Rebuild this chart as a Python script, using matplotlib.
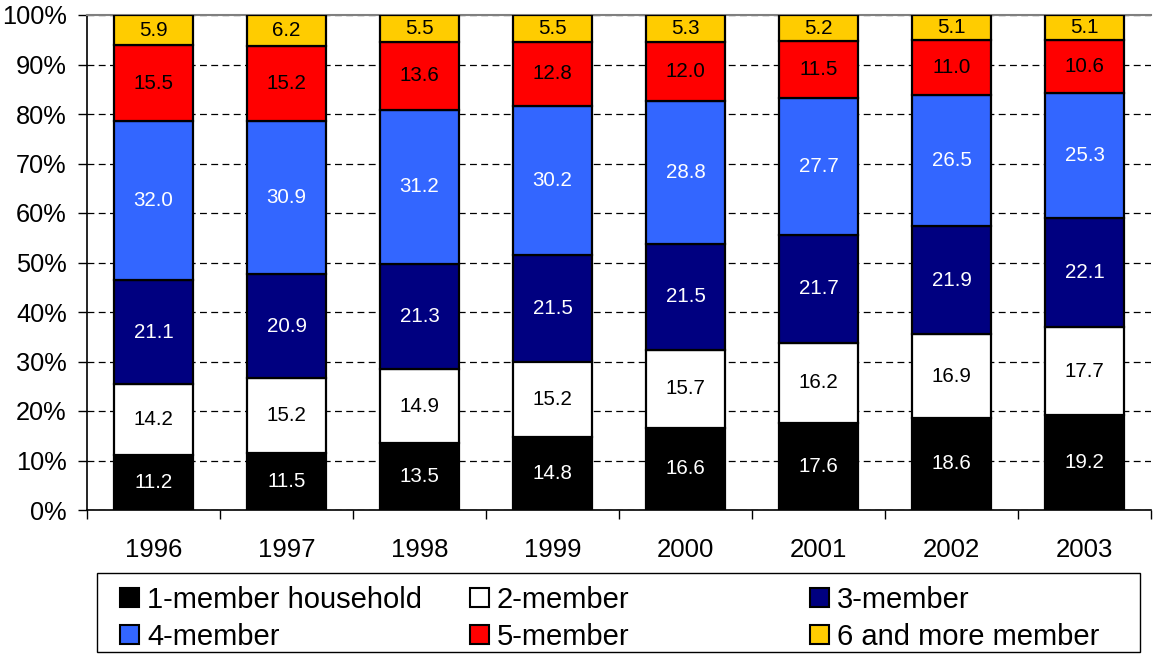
import numpy as np
import matplotlib
matplotlib.use("Agg")
import matplotlib.pyplot as plt
from matplotlib.patches import Rectangle

plt.rcParams['font.family'] = ['Liberation Sans', 'DejaVu Sans']

years = ['1996', '1997', '1998', '1999', '2000', '2001', '2002', '2003']
series_names = ['1-member household', '2-member', '3-member',
                '4-member', '5-member', '6 and more member']
one_member = [11.2, 11.5, 13.5, 14.8, 16.6, 17.6, 18.6, 19.2]
two_member = [14.2, 15.2, 14.9, 15.2, 15.7, 16.2, 16.9, 17.7]
three_member = [21.1, 20.9, 21.3, 21.5, 21.5, 21.7, 21.9, 22.1]
four_member = [32.0, 30.9, 31.2, 30.2, 28.8, 27.7, 26.5, 25.3]
five_member = [15.5, 15.2, 13.6, 12.8, 12.0, 11.5, 11.0, 10.6]
six_member = [5.9, 6.2, 5.5, 5.5, 5.3, 5.2, 5.1, 5.1]

series = [one_member, two_member, three_member, four_member, five_member, six_member]
colors = ['#000000', '#FFFFFF', '#000080', '#3366FF', '#FF0000', '#FFCC00']
text_colors = ['white', 'black', 'white', 'white', 'black', 'black']

W, H = 1155, 655
fig = plt.figure(figsize=(W / 100, H / 100), dpi=100)
ax = fig.add_axes([87 / W, 1 - 510 / H, 1064 / W, 495 / H])

x = np.arange(len(years))
bottom = np.zeros(len(years))
for vals, c, tc in zip(series, colors, text_colors):
    vals = np.array(vals)
    ax.bar(x, vals, bottom=bottom, width=0.6, color=c, edgecolor='black',
           linewidth=1.6, zorder=3)
    for xi, b, v in zip(x, bottom, vals):
        ax.text(xi, b + v / 2, f'{v:.1f}', ha='center', va='center',
                color=tc, fontsize=14.8, zorder=4)
    bottom += vals

ax.set_xlim(-0.5, len(years) - 0.5)
ax.set_ylim(0, 100)
ax.set_yticks(np.arange(0, 101, 10))
ax.set_yticklabels([f'{v}%' for v in range(0, 101, 10)], fontsize=18.3)
ax.set_xticks(x)
ax.set_xticklabels(years, fontsize=18.5)
ax.tick_params(axis='x', length=0, pad=20)
ax.set_xticks(np.arange(-0.5, len(years)), minor=True)
ax.tick_params(axis='x', which='minor', length=6.5, width=1, direction='out')
ax.tick_params(axis='y', length=6.5, width=1, direction='out', pad=8)

ax.yaxis.grid(True, linestyle=(0, (5.5, 3.5)), color='black', linewidth=0.9, zorder=0)
ax.spines['right'].set_visible(False)
ax.spines['top'].set_color('#808080')
ax.spines['top'].set_linewidth(1.5)
ax.spines['left'].set_linewidth(1.2)
ax.spines['bottom'].set_linewidth(1.2)

# legend drawn by hand: Excel spaces the three columns evenly
fig.patches.append(Rectangle((97 / W, 1 - 652 / H), 1043 / W, 79 / H,
                             transform=fig.transFigure, facecolor='white',
                             edgecolor='black', linewidth=1))
col_x = [120, 470, 810]
row_y = [597, 634]
box = 19
for i, (name, c) in enumerate(zip(series_names, colors)):
    cx = col_x[i % 3]
    cy = row_y[i // 3]
    fig.patches.append(Rectangle((cx / W, 1 - (cy + box / 2) / H), box / W, box / H,
                                 transform=fig.transFigure, facecolor=c,
                                 edgecolor='black', linewidth=1.5))
    fig.text((cx + box + 8) / W, 1 - cy / H, name, fontsize=21,
             ha='left', va='center_baseline')

fig.savefig('out.png', dpi=100)
